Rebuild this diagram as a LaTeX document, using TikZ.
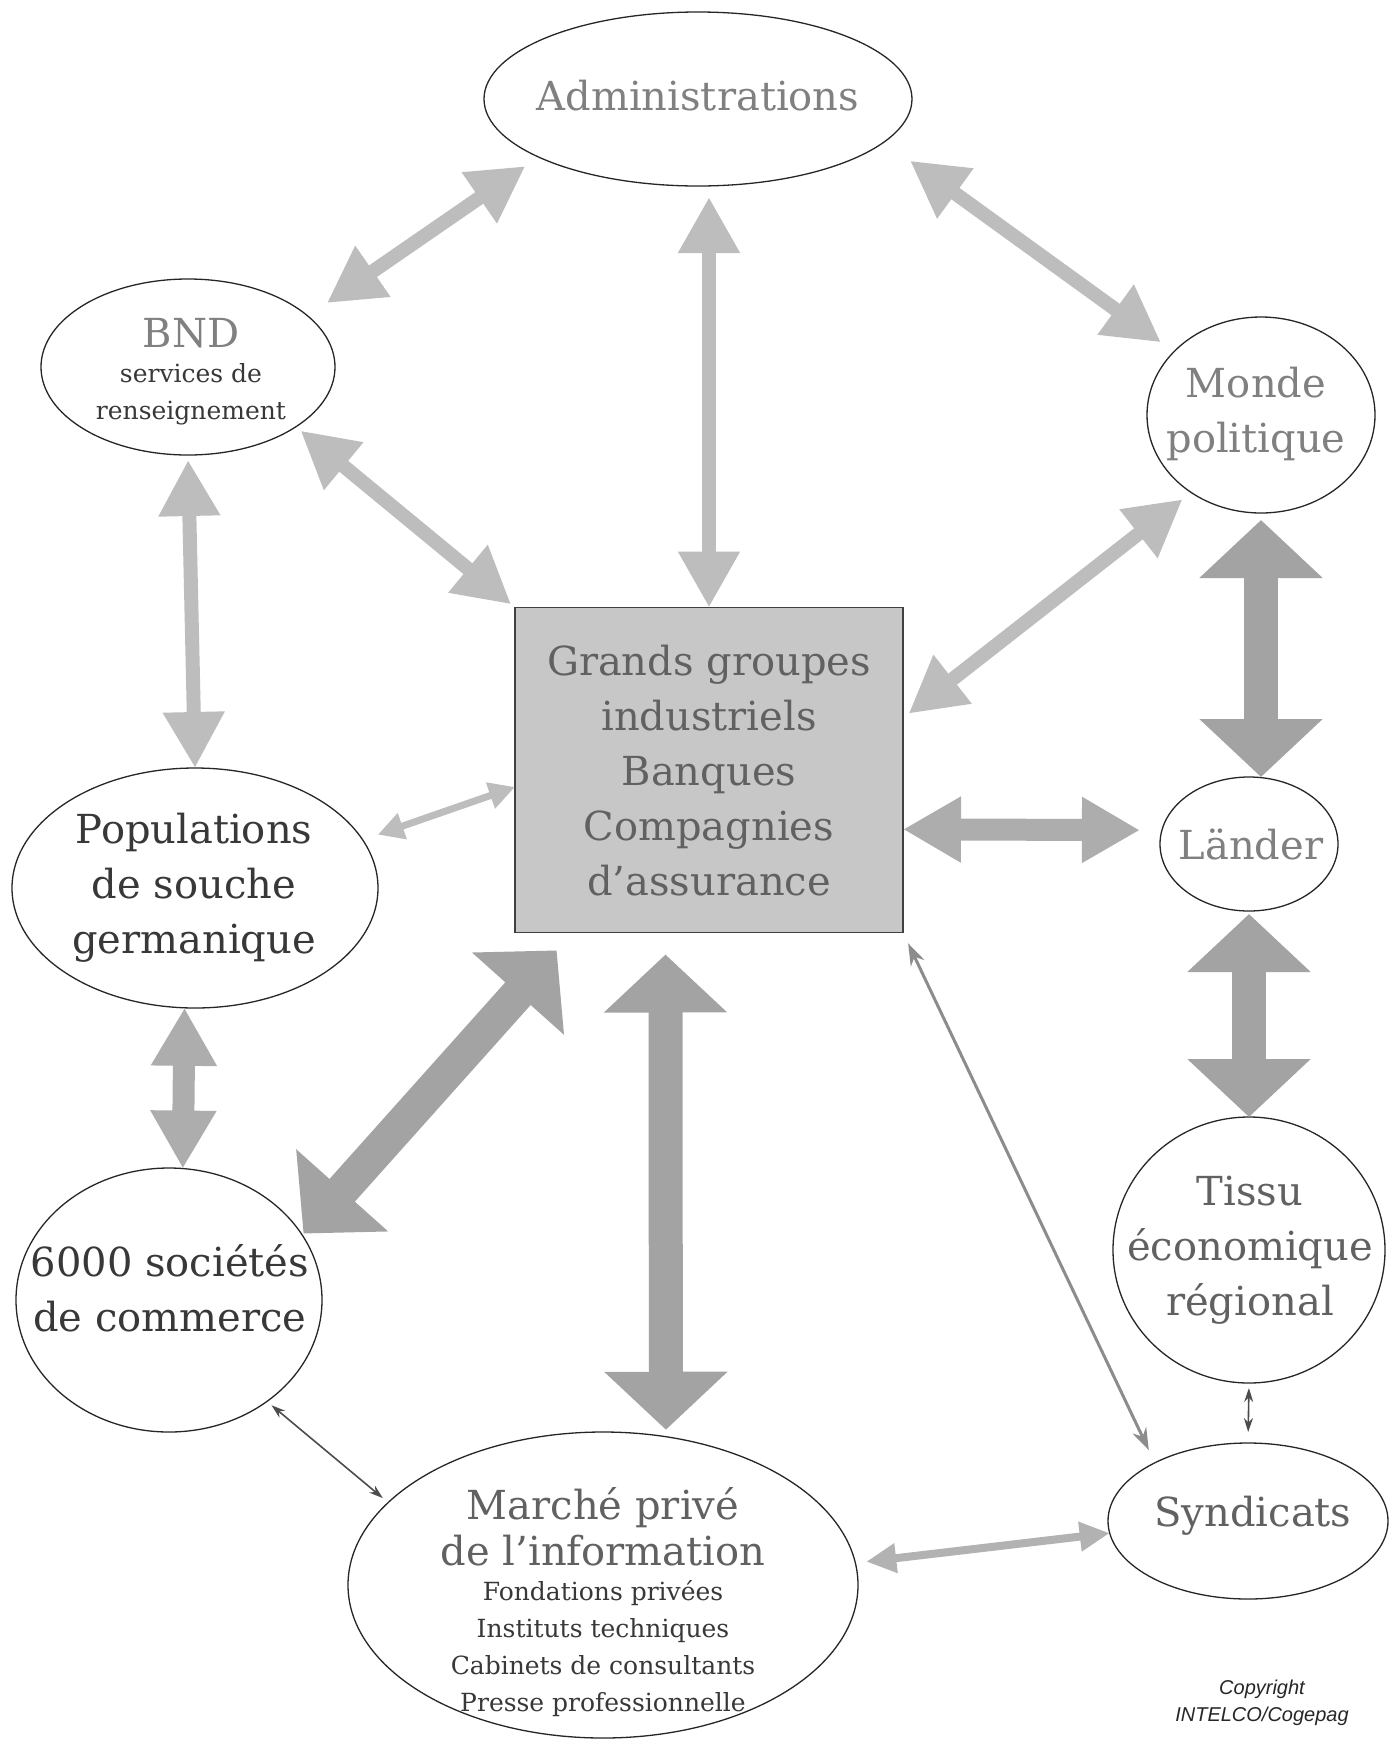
\documentclass[tikz,border=0pt]{standalone}
\usepackage{fontspec}
\setmainfont{DejaVu Serif}
\newfontfamily\creditfont{Liberation Sans}
\usetikzlibrary{arrows.meta,shapes.geometric,calc}

\definecolor{inkdark}{gray}{0.22}
\definecolor{inkmid}{gray}{0.38}
\definecolor{inklight}{gray}{0.50}

\begin{document}
\begin{tikzpicture}[x=1pt,y=-1pt,
  ell/.style={draw=black!85, line width=1.3pt, ellipse, inner sep=0pt, outer sep=0pt},
  lbl/.style={align=center, inner sep=0pt, text=inkmid,
    font=\fontsize{40}{55}\selectfont},
  smalllbl/.style={align=center, inner sep=0pt, text=inkdark,
    font=\fontsize{25}{37}\selectfont},
  hub/.style={draw=black!75, line width=1.6pt, fill=black!22, rectangle,
    inner sep=0pt, outer sep=0pt, minimum width=388pt, minimum height=325pt},
  % double-headed connectors of several weights
  arrL/.style={line width=34pt, draw=black!36,
    {Triangle[length=58pt,width=120pt]}-{Triangle[length=58pt,width=120pt]}},
  arrW/.style={line width=22pt, draw=black!32,
    {Triangle[length=58pt,width=62pt]}-{Triangle[length=58pt,width=62pt]}},
  arrM/.style={line width=14pt, draw=black!26,
    {Triangle[length=56pt,width=58pt]}-{Triangle[length=56pt,width=58pt]}},
  arrS/.style={line width=7pt, draw=black!26,
    {Triangle[length=26pt,width=26pt]}-{Triangle[length=26pt,width=26pt]}},
  arrMS/.style={line width=8pt, draw=black!30,
    {Triangle[length=30pt,width=28pt]}-{Triangle[length=30pt,width=28pt]}},
  arrT/.style={line width=1.6pt, draw=black!70,
    {Stealth[length=14pt,width=9pt]}-{Stealth[length=14pt,width=9pt]}},
  arrTT/.style={line width=3pt, draw=black!45,
    {Stealth[length=22pt,width=15pt]}-{Stealth[length=22pt,width=15pt]}},
]
\useasboundingbox[fill=white] (0,0) rectangle (1396,1741);

% ---- actors ----
\node[ell, minimum width=428pt, minimum height=174pt] (admin)   at (698,99)   {};
\node[ell, minimum width=294pt, minimum height=176pt] (bnd)     at (188,367)  {};
\node[ell, minimum width=228pt, minimum height=196pt] (monde)   at (1261,415) {};
\node[hub] (box) at (709,770) {};
\node[ell, minimum width=366pt, minimum height=240pt] (pop)     at (195,888)  {};
\node[ell, minimum width=178pt, minimum height=134pt] (laender) at (1249,844) {};
\node[ell, minimum width=272pt, minimum height=266pt] (tissu)   at (1249,1250){};
\node[ell, minimum width=306pt, minimum height=264pt] (six)     at (169,1300) {};
\node[ell, minimum width=510pt, minimum height=306pt] (marche)  at (603,1585) {};
\node[ell, minimum width=280pt, minimum height=156pt] (synd)    at (1248,1521){};

% ---- labels ----
\node[lbl, text=inklight] (admin-t) at (698,96) {Administrations};
\node[smalllbl] (bnd-t) at (191,372)
  {{\color{inklight}\fontsize{40}{40}\selectfont BND}\\[-2pt]services de\\renseignement};
\node[lbl, text=inklight] (monde-t) at (1256,414) {Monde\\politique};
\node[lbl] (box-t) at (709,771) {Grands groupes\\industriels\\Banques\\Compagnies\\d'assurance};
\node[lbl, text=inkdark] (pop-t) at (194,888) {Populations\\de souche\\germanique};
\node[lbl, text=inklight] (laender-t) at (1251,844) {Länder};
\node[lbl] (tissu-t) at (1250,1250) {Tissu\\économique\\régional};
\node[lbl, text=inkdark] (six-t) at (170,1288) {6000 sociétés\\de commerce};
\node[smalllbl] (marche-t) at (603,1602)
  {{\color{inkmid}\fontsize{40}{40}\selectfont Marché privé}\\[6pt]
   {\color{inkmid}\fontsize{40}{40}\selectfont de l'information}\\[-2pt]
   Fondations privées\\Instituts techniques\\Cabinets de consultants\\Presse professionnelle};
\node[lbl] (synd-t) at (1253,1516) {Syndicats};

\node[align=center, inner sep=0pt, text=black!85,
  font=\creditfont\itshape\fontsize{20}{27}\selectfont] (credit) at (1262,1703)
  {Copyright\\INTELCO/Cogepag};

% ---- connectors ----
\draw[arrM, shorten <=16pt, shorten >=23pt] (admin.200) -- (bnd.23);
\draw[arrM, shorten <=11pt] (admin.south -| box.north) -- (box.north);
\draw[arrM, shorten <=32pt, shorten >=16pt] (admin.-13) -- (monde.144);
\draw[arrM, shorten <=6pt, shorten >=5pt] (bnd.-29) -- (box.north west);
\draw[arrM, shorten <=5pt] (bnd.south) -- (pop.north);
\draw[arrM, shorten <=11pt, shorten >=7pt] (monde.228) -- (box.15);
\draw[arrL, shorten <=7pt] (monde.south) -- (monde.south |- laender.north);
\draw[arrS, shorten <=16pt] (pop.16) -- (box.185);
\draw[arrW, shorten >=22pt] (box.-17) -- (laender.171);
\draw[arrL, shorten <=3pt] (laender.south) -- (tissu.north);
\draw[arrW] (pop.265) -- (six.84);
\draw[arrL, shorten <=24pt, shorten >=2pt] (box.230) -- (six.26);
\draw[arrL, shorten <=22pt, shorten >=7pt] (box.255) -- (marche.67);
\draw[arrTT, shorten <=12pt, shorten >=14pt] (box.south east) -- (synd.148);
\draw[arrT, shorten <=6pt, shorten >=7pt] (six.-46) -- (marche.159);
\draw[arrT, shorten <=5pt, shorten >=11pt] (tissu.south) -- (synd.north);
\draw[arrMS, shorten <=11pt] (marche.5) -- (synd.185);
\end{tikzpicture}
\end{document}
